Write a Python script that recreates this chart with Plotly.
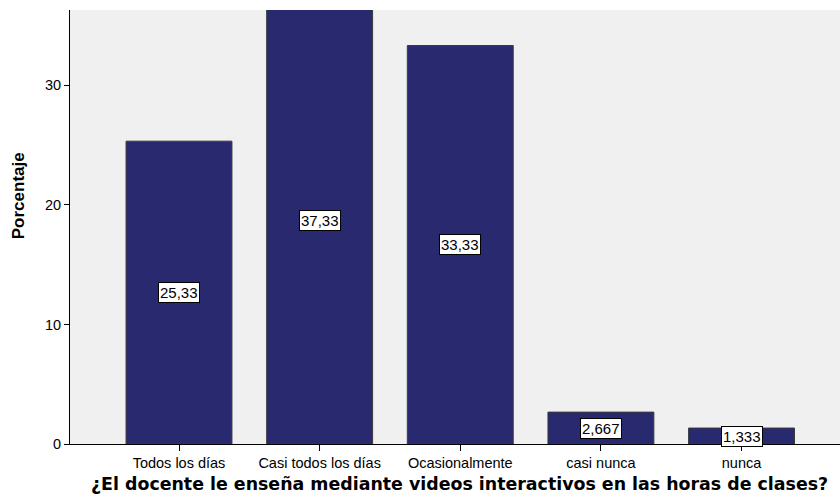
import plotly.graph_objects as go

categories = ["Todos los días", "Casi todos los días", "Ocasionalmente", "casi nunca", "nunca"]
values = [25.33, 37.33, 33.33, 2.667, 1.333]
labels = ["25,33", "37,33", "33,33", "2,667", "1,333"]
y_ticks = [0, 10, 20, 30]

fig = go.Figure()
fig.add_trace(go.Bar(
    x=categories, y=values,
    marker=dict(color="#29296F", line=dict(color="#3a3a3a", width=1)),
    width=0.753,
    hoverinfo="skip",
))

for c, v, t in zip(categories, values, labels):
    fig.add_annotation(
        x=c, y=v / 2, text=t, showarrow=False,
        font=dict(family="Liberation Sans, Arial", size=15, color="black"),
        bgcolor="white", bordercolor="black", borderwidth=1, borderpad=1,
        xref="x", yref="y",
    )

fig.add_annotation(
    xref="paper", yref="paper", x=0.506, y=0, yshift=-40,
    xanchor="center", yanchor="middle", showarrow=False,
    text="<b>¿El docente le enseña mediante videos interactivos en las horas de clases?</b>",
    font=dict(family="DejaVu Sans", size=17.4, color="black"),
)
fig.add_annotation(
    xref="paper", yref="paper", x=0, xshift=-51.5, y=0.572,
    xanchor="center", yanchor="middle", showarrow=False, textangle=-90,
    text="<b>Porcentaje</b>",
    font=dict(family="Liberation Sans, Arial", size=17, color="black"),
)

fig.update_layout(
    width=840, height=503,
    margin=dict(l=70, r=0, t=10, b=59),
    paper_bgcolor="white",
    plot_bgcolor="#F0F0F0",
    showlegend=False,
    xaxis=dict(
        range=[-0.775, 4.70], automargin=False,
        showline=True, linecolor="black", linewidth=1,
        ticks="outside", ticklen=6, tickcolor="black",
        showgrid=False, zeroline=False,
        tickfont=dict(family="Liberation Sans, Arial", size=14.5, color="black"),
    ),
    yaxis=dict(
        range=[0, 36.3], automargin=False,
        tickvals=y_ticks,
        showline=True, linecolor="black", linewidth=1,
        ticks="outside", ticklen=5, tickcolor="black",
        showgrid=False, zeroline=False,
        tickfont=dict(family="Liberation Sans, Arial", size=14.5, color="black"),
    ),
)

fig.write_html("out.html", config={"displayModeBar": False},
               post_script="document.body.style.margin='0';")
